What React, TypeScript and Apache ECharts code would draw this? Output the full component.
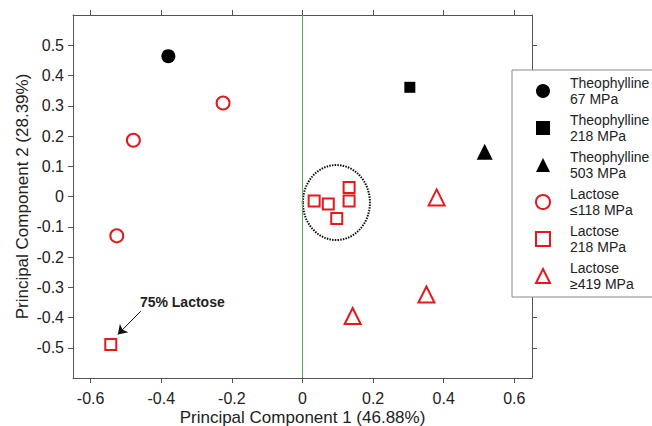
import React, { useEffect, useRef } from "react";
import * as echarts from "echarts";

const theo67: number[][] = [[-0.38, 0.464]];
const theo218: number[][] = [[0.304, 0.361]];
const theo503: number[][] = [[0.516, 0.148]];
const lac118: number[][] = [[-0.225, 0.309], [-0.479, 0.186], [-0.526, -0.13]];
const lac218: number[][] = [
  [-0.543, -0.489],
  [0.033, -0.015],
  [0.073, -0.025],
  [0.097, -0.073],
  [0.132, 0.03],
  [0.132, -0.015],
];
const lac419: number[][] = [[0.38, -0.003], [0.351, -0.324], [0.142, -0.395]];

// ellipse: [cx, cy, rx, ry] in data units
const clusterEllipse: number[][] = [[0.096, -0.02, 0.095, 0.124]];

const arrowStart = [-0.458, -0.379];
const arrowEnd = [-0.523, -0.456];
const annotationAt = [-0.462, -0.349];
const annotationText = "75% Lactose";

const xTicks = [-0.6, -0.4, -0.2, 0, 0.2, 0.4, 0.6];
const yTicks = [-0.5, -0.4, -0.3, -0.2, -0.1, 0, 0.1, 0.2, 0.3, 0.4, 0.5];

const seriesNames = [
  "Theophylline\n67 MPa",
  "Theophylline\n218 MPa",
  "Theophylline\n503 MPa",
  "Lactose\n≤118 MPa",
  "Lactose\n218 MPa",
  "Lactose\n≥419 MPa",
];

const RED = "#e3191e";
const FRAME = "#555";
const FONT = "Liberation Sans, Arial, sans-serif";

export default function App() {
  const ref = useRef<HTMLDivElement>(null);
  useEffect(() => {
    if (!ref.current) return;
    const chart = echarts.init(ref.current, undefined, { renderer: "svg" });
    const axisCommon = {
      axisLine: { show: true, onZero: false, lineStyle: { color: FRAME, width: 1 } },
      splitLine: { show: false },
    };
    const filled = (c: string) => ({ color: c, opacity: 1 });
    const hollow = { color: "#fff", borderColor: RED, borderWidth: 2, opacity: 1 };
    chart.setOption({
      animation: false,
      textStyle: { fontFamily: FONT },
      grid: { left: 73, top: 15, right: 120, bottom: 48, containLabel: false, outerBoundsMode: "none" },
      legend: {
        data: seriesNames,
        orient: "vertical",
        left: 512,
        top: 70,
        padding: [5, 30, 5, 23],
        itemWidth: 14,
        itemHeight: 14,
        itemGap: 5,
        align: "left",
        backgroundColor: "#fff",
        borderColor: "#888",
        borderWidth: 1,
        textStyle: {
          fontSize: 14,
          lineHeight: 16,
          color: "#222",
          fontFamily: FONT,
          padding: [0, 0, 0, 15],
        },
        z: 10,
      },
      xAxis: [
        {
          type: "value",
          position: "bottom",
          min: -0.65,
          max: 0.65,
          ...axisCommon,
          axisTick: { show: true, inside: false, length: 5, lineStyle: { color: FRAME }, customValues: xTicks },
          axisLabel: { customValues: xTicks, fontSize: 16, color: "#222", margin: 12, fontFamily: FONT },
          name: "Principal Component 1 (46.88%)",
          nameLocation: "middle",
          nameGap: 31,
          nameMoveOverlap: false,
          nameTextStyle: { fontSize: 17, color: "#222", fontFamily: FONT },
        },
        {
          type: "value",
          position: "top",
          min: -0.65,
          max: 0.65,
          ...axisCommon,
          axisTick: { show: true, inside: false, length: 5, lineStyle: { color: FRAME }, customValues: xTicks },
          axisLabel: { show: false },
        },
      ],
      yAxis: [
        {
          type: "value",
          position: "left",
          min: -0.6,
          max: 0.6,
          ...axisCommon,
          axisTick: { show: true, inside: false, length: 5, lineStyle: { color: FRAME }, customValues: yTicks },
          axisLabel: { customValues: yTicks, fontSize: 16, color: "#222", margin: 9, fontFamily: FONT },
          name: "Principal Component 2 (28.39%)",
          nameLocation: "middle",
          nameGap: 42,
          nameMoveOverlap: false,
          nameTextStyle: { fontSize: 17, color: "#222", fontFamily: FONT },
        },
        {
          type: "value",
          position: "right",
          min: -0.6,
          max: 0.6,
          ...axisCommon,
          axisTick: { show: true, inside: false, length: 5, lineStyle: { color: FRAME }, customValues: yTicks },
          axisLabel: { show: false },
        },
      ],
      series: [
        {
          name: seriesNames[0],
          type: "scatter",
          symbol: "circle",
          symbolSize: 14,
          itemStyle: filled("#000"),
          data: theo67,
          markLine: {
            silent: true,
            symbol: "none",
            label: { show: false },
            lineStyle: { color: "#5aae5a", width: 1, type: "solid" },
            data: [{ xAxis: 0 }],
          },
        },
        {
          name: seriesNames[1],
          type: "scatter",
          symbol: "rect",
          symbolSize: 11,
          itemStyle: filled("#000"),
          data: theo218,
        },
        {
          name: seriesNames[2],
          type: "scatter",
          symbol: "triangle",
          symbolSize: 16,
          itemStyle: filled("#000"),
          data: theo503,
        },
        {
          name: seriesNames[3],
          type: "scatter",
          symbol: "circle",
          symbolSize: 13,
          itemStyle: hollow,
          data: lac118,
        },
        {
          name: seriesNames[4],
          type: "scatter",
          symbol: "rect",
          symbolSize: 11,
          itemStyle: hollow,
          data: lac218,
          markLine: {
            silent: true,
            label: { show: false },
            lineStyle: { color: "#111", width: 1, type: "solid" },
            symbolSize: 9,
            data: [
              [
                { coord: arrowStart, symbol: "none" },
                { coord: arrowEnd, symbol: "arrow" },
              ],
            ],
          },
          markPoint: {
            silent: true,
            symbol: "circle",
            symbolSize: 1,
            itemStyle: { color: "rgba(0,0,0,0)" },
            label: {
              show: true,
              position: "right",
              distance: 0,
              formatter: annotationText,
              fontSize: 14,
              fontWeight: "bold",
              color: "#222",
              fontFamily: FONT,
            },
            data: [{ coord: annotationAt }],
          },
        },
        {
          name: seriesNames[5],
          type: "scatter",
          symbol: "triangle",
          symbolSize: 16,
          itemStyle: hollow,
          data: lac419,
        },
        {
          type: "custom",
          silent: true,
          data: clusterEllipse,
          encode: { x: 0, y: 1 },
          renderItem: (params: any, api: any) => {
            const c = api.coord([api.value(0), api.value(1)]);
            const s = api.size([api.value(2), api.value(3)]);
            return {
              type: "ellipse",
              shape: { cx: c[0], cy: c[1], rx: s[0], ry: s[1] },
              style: { fill: "none", stroke: "#111", lineWidth: 2, lineDash: [1.5, 1.2] },
            };
          },
        },
      ],
    });
    return () => chart.dispose();
  }, []);
  return (
    <div
      ref={ref}
      style={{ position: "fixed", left: 0, top: 0, width: 652, height: 426, background: "#fff" }}
    />
  );
}
